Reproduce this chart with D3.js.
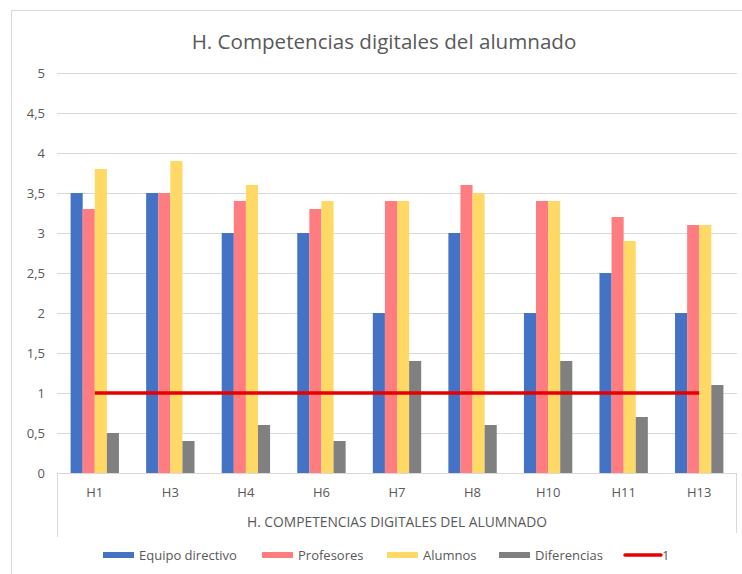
<!DOCTYPE html>
<html>
<head>
<meta charset="utf-8">
<script src="https://cdn.jsdelivr.net/npm/d3@7"></script>
<style>
  html, body { margin: 0; padding: 0; background: #fff; }
  svg { display: block; }
  text { font-family: "Open Sans", "Noto Sans", sans-serif; fill: #595959; }
</style>
</head>
<body>
<svg id="chart" width="742" height="574"></svg>
<script>
const categories = ["H1", "H3", "H4", "H6", "H7", "H8", "H10", "H11", "H13"];
const seriesNames = ["Equipo directivo", "Profesores", "Alumnos", "Diferencias"];
const equipoDirectivo = [3.5, 3.5, 3.0, 3.0, 2.0, 3.0, 2.0, 2.5, 2.0];
const profesores      = [3.3, 3.5, 3.4, 3.3, 3.4, 3.6, 3.4, 3.2, 3.1];
const alumnos         = [3.8, 3.9, 3.6, 3.4, 3.4, 3.5, 3.4, 2.9, 3.1];
const diferencias     = [0.5, 0.4, 0.6, 0.4, 1.4, 0.6, 1.4, 0.7, 1.1];
const referenceLine   = [1, 1, 1, 1, 1, 1, 1, 1, 1];
const referenceName = "1";
const yTicks = [0, 0.5, 1, 1.5, 2, 2.5, 3, 3.5, 4, 4.5, 5];
const chartTitle = "H. Competencias digitales del alumnado";
const axisTitle = "H. COMPETENCIAS DIGITALES DEL ALUMNADO";

const colors = ["#4472C4", "#FF7C80", "#FFD966", "#808080"];
const lineColor = "#E60000";
const seriesValues = [equipoDirectivo, profesores, alumnos, diferencias];

const svg = d3.select("#chart");
const W = 742, H = 574;
const plot = { left: 57, right: 737, top: 73, bottom: 473 };

// outer chart border
svg.append("rect").attr("x", 11.5).attr("y", 10.5).attr("width", W).attr("height", H)
  .attr("fill", "#fff").attr("stroke", "#d9d9d9").attr("stroke-width", 1);

const x = d3.scaleBand().domain(categories).range([plot.left, plot.right]).paddingInner(0).paddingOuter(0);
const groupWidth = x.bandwidth() * 0.64;
const xs = d3.scaleBand().domain(seriesNames).range([0, groupWidth]).padding(0);
const y = d3.scaleLinear().domain([0, 5]).range([plot.bottom, plot.top]);

// gridlines
svg.append("g").selectAll("line").data(yTicks.filter(d => d > 0)).join("line")
  .attr("x1", plot.left).attr("x2", plot.right)
  .attr("y1", d => Math.round(y(d)) + 0.5).attr("y2", d => Math.round(y(d)) + 0.5)
  .attr("stroke", "#d9d9d9").attr("stroke-width", 1);

// y axis labels
const yAxis = d3.axisLeft(y).tickValues(yTicks).tickSize(0).tickPadding(0)
  .tickFormat(d => String(d).replace(".", ","));
const yg = svg.append("g").attr("transform", `translate(45,0)`).call(yAxis);
yg.select(".domain").remove();
yg.selectAll("text").attr("font-size", 13).style("font-family", '"Open Sans", sans-serif').attr("fill", "#595959").attr("dy", "0.35em");

// bars
const groups = svg.append("g").selectAll("g").data(categories).join("g")
  .attr("transform", d => `translate(${x(d) + (x.bandwidth() - groupWidth) / 2},0)`);
groups.selectAll("rect").data((c, i) => seriesNames.map((s, j) => ({ s, j, v: seriesValues[j][i] })))
  .join("rect")
  .attr("x", d => xs(d.s))
  .attr("width", xs.bandwidth())
  .attr("y", d => y(d.v))
  .attr("height", d => y(0) - y(d.v))
  .attr("fill", d => colors[d.j]);

// category axis box
const axisG = svg.append("g");
axisG.append("line").attr("x1", plot.left).attr("x2", plot.right)
  .attr("y1", plot.bottom + 0.5).attr("y2", plot.bottom + 0.5).attr("stroke", "#d9d9d9");
axisG.append("line").attr("x1", plot.left + 0.5).attr("x2", plot.left + 0.5)
  .attr("y1", plot.bottom).attr("y2", 537).attr("stroke", "#d9d9d9");
axisG.append("line").attr("x1", plot.right - 0.5).attr("x2", plot.right - 0.5)
  .attr("y1", plot.bottom).attr("y2", 533).attr("stroke", "#d9d9d9");

const xAxis = d3.axisBottom(x).tickSize(0).tickPadding(0);
const xg = svg.append("g").attr("transform", `translate(0,${plot.bottom})`).call(xAxis);
xg.select(".domain").remove();
xg.selectAll("text").attr("y", 19).attr("dy", "0.35em").attr("font-size", 13)
  .style("font-family", '"Open Sans", sans-serif').attr("fill", "#595959");

svg.append("text").attr("x", 397).attr("y", 522).attr("dy", "0.35em")
  .attr("text-anchor", "middle").attr("font-size", 13.8).text(axisTitle);

// reference line
const line = d3.line().x((d, i) => x(categories[i]) + x.bandwidth() / 2).y(d => y(d));
svg.append("path").datum(referenceLine).attr("d", line)
  .attr("fill", "none").attr("stroke", lineColor).attr("stroke-width", 3.5);

// title
svg.append("text").attr("x", 384).attr("y", 42).attr("dy", "0.35em")
  .attr("text-anchor", "middle").attr("font-size", 20.6).text(chartTitle);

// legend
const legendItems = [
  { name: seriesNames[0], color: colors[0], type: "bar", x: 103 },
  { name: seriesNames[1], color: colors[1], type: "bar", x: 262 },
  { name: seriesNames[2], color: colors[2], type: "bar", x: 387 },
  { name: seriesNames[3], color: colors[3], type: "bar", x: 499 },
  { name: referenceName, color: lineColor, type: "line", x: 625 }
];
const lg = svg.append("g").selectAll("g").data(legendItems).join("g")
  .attr("transform", d => `translate(${d.x},555)`);
lg.filter(d => d.type === "bar").append("rect")
  .attr("x", 0).attr("y", -3).attr("width", 31).attr("height", 6).attr("fill", d => d.color);
lg.filter(d => d.type === "line").append("line")
  .attr("x1", 0).attr("x2", 36).attr("y1", 0).attr("y2", 0)
  .attr("stroke", d => d.color).attr("stroke-width", 3.5).attr("stroke-linecap", "round");
lg.append("text").attr("x", d => d.type === "line" ? 37 : 36).attr("y", 0).attr("dy", "0.35em")
  .attr("font-size", 13).text(d => d.name);
</script>
</body>
</html>
